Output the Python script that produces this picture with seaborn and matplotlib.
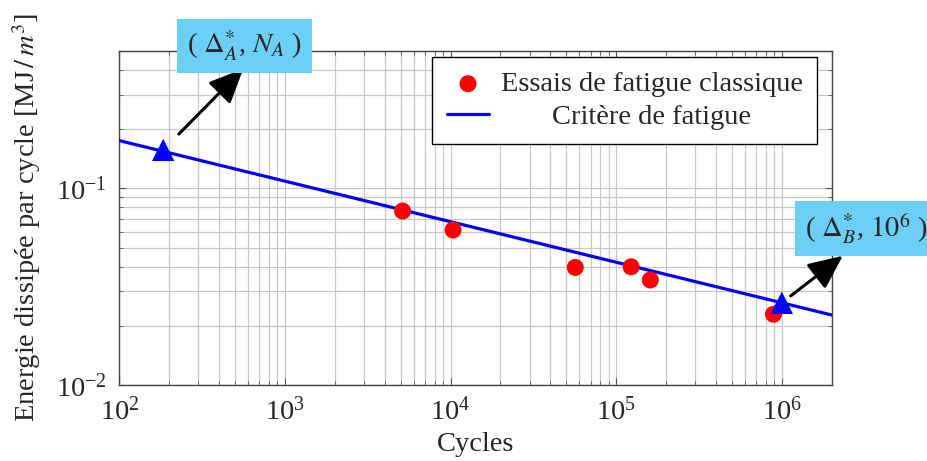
import matplotlib
matplotlib.use("Agg")
import matplotlib.pyplot as plt
import seaborn as sns
import pandas as pd

# essais de fatigue classique (points rouges)
essais_cycles = [5130, 10350, 56600, 123000, 160700, 891000]
essais_energie = [0.0767, 0.0614, 0.0396, 0.0399, 0.0342, 0.0229]

# critere de fatigue (droite bleue)
critere_cycles = [100, 2e6]
critere_energie = [0.175, 0.0227]

# points A et B (triangles)
pts_cycles = [184, 1e6]
pts_energie = [0.157, 0.0262]
pts_labels = [r"( $\Delta^{*}_{A}$, $N_{A}$ )", r"( $\Delta^{*}_{B}$, $10^{6}$ )"]

sns.set_style("ticks")
plt.rcParams["font.family"] = ["Liberation Serif", "DejaVu Serif"]
plt.rcParams["mathtext.fontset"] = "stix"
fs = 20.5

fig = plt.figure(figsize=(9.28, 4.61), dpi=100)
ax = fig.add_axes([0.1286, 0.1649, 0.8962 - 0.1286, 0.8894 - 0.1649])

df_e = pd.DataFrame({"cycles": essais_cycles, "energie": essais_energie})
df_c = pd.DataFrame({"cycles": critere_cycles, "energie": critere_energie})
df_p = pd.DataFrame({"cycles": pts_cycles, "energie": pts_energie})

sns.lineplot(data=df_c, x="cycles", y="energie", color="#0000ff", linewidth=2.3,
             label="Critère de fatigue", ax=ax, zorder=3)
sns.scatterplot(data=df_e, x="cycles", y="energie", color="#ff0000", s=150,
                edgecolor="none", label="Essais de fatigue classique", ax=ax, zorder=4)
sns.scatterplot(data=df_p, x="cycles", y="energie", color="#0000ff", marker="^", s=260,
                edgecolor="none", legend=False, ax=ax, zorder=5)

ax.set_xscale("log")
ax.set_yscale("log")
ax.set_xlim(100, 2e6)
ax.set_ylim(0.01, 0.5)

ax.grid(True, which="both", color="#c8c8c8", linewidth=0.9)
ax.set_axisbelow(True)
ax.tick_params(which="both", direction="in", top=True, right=True, color="#555555",
               labelsize=fs)
ax.tick_params(axis="x", which="major", pad=9)
ax.tick_params(axis="y", which="major", pad=9)
ax.tick_params(which="major", length=5, width=0.8)
ax.tick_params(which="minor", length=3, width=0.6)
for s in ax.spines.values():
    s.set_color("#444444")
    s.set_linewidth(1.0)

ax.set_xlabel("Cycles", fontsize=fs, labelpad=4)
ax.set_ylabel(r"Energie dissipée par cycle [MJ$\,/\,m^3$]", fontsize=fs, labelpad=9)

h, l = ax.get_legend_handles_labels()
order = [l.index("Essais de fatigue classique"), l.index("Critère de fatigue")]
leg = ax.legend([h[i] for i in order], [l[i] for i in order], loc="upper right",
                bbox_to_anchor=(0.9794, 0.982), borderaxespad=0,
                fontsize=fs, frameon=True, fancybox=False, framealpha=1,
                edgecolor="black", handlelength=1.5,
                handletextpad=0.4, labelspacing=0.25, borderpad=0.5)
leg.get_frame().set_linewidth(1.0)

# fleches et etiquettes
offsets_text = [(81, 104), (84, 74)]
offsets_head = [(80, 81), (61, 47)]
shrinks = [16, 8]
for i in range(2):
    xy = (pts_cycles[i], pts_energie[i])
    ax.annotate("", xy=xy, xytext=offsets_head[i], textcoords="offset pixels",
                annotation_clip=False,
                arrowprops=dict(arrowstyle="<|-,head_length=2.1,head_width=0.95",
                                color="black", lw=2.2, shrinkA=0, shrinkB=shrinks[i],
                                mutation_scale=10))
    ax.annotate(pts_labels[i], xy=xy, xytext=offsets_text[i], textcoords="offset pixels",
                ha="center", va="center", fontsize=fs, annotation_clip=False,
                bbox=dict(boxstyle="square,pad=0.35", fc="#6ccff6", ec="none"),
                zorder=6)

# centrer les textes de la legende
fig.canvas.draw()
r = fig.canvas.get_renderer()
widths = [t.get_window_extent(r).width for t in leg.get_texts()]
wmax = max(widths)
for t, w in zip(leg.get_texts(), widths):
    t.set_position(((wmax - w) / 2, 0))

fig.savefig("out.png", dpi=100)
